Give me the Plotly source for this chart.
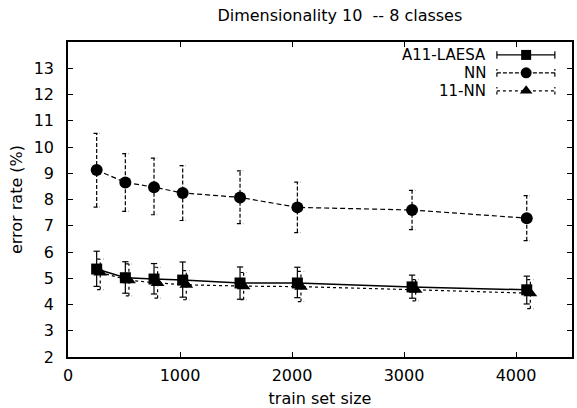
import plotly.graph_objects as go

# ---- data ----
train_size = [256, 512, 768, 1024, 1536, 2048, 3072, 4096]
knn_x = [288, 544, 800, 1056, 1568, 2080, 3104, 4128]

laesa_mean = [5.35, 5.02, 4.97, 4.93, 4.82, 4.82, 4.67, 4.56]
laesa_lo = [4.69, 4.43, 4.40, 4.28, 4.20, 4.26, 4.24, 4.02]
laesa_hi = [6.03, 5.63, 5.56, 5.62, 5.43, 5.42, 5.12, 5.08]

nn_mean = [9.12, 8.65, 8.47, 8.25, 8.08, 7.70, 7.60, 7.29]
nn_lo = [7.71, 7.55, 7.42, 7.20, 7.08, 6.74, 6.85, 6.43]
nn_hi = [10.52, 9.75, 9.58, 9.29, 9.09, 8.66, 8.35, 8.15]

knn_mean = [5.22, 4.92, 4.82, 4.75, 4.70, 4.68, 4.56, 4.43]
knn_lo = [4.57, 4.33, 4.24, 4.18, 4.18, 4.11, 4.14, 3.84]
knn_hi = [5.73, 5.55, 5.42, 5.29, 5.22, 5.26, 4.95, 4.95]

x_ticks = [0, 1000, 2000, 3000, 4000]
y_ticks = list(range(2, 14))

FONT = "DejaVu Sans, Liberation Sans, sans-serif"
FS = 16
CAP = 28  # half-width of error-bar caps in x units


def errbar_xy(xs, lo, hi, cap):
    ex, ey = [], []
    for x, a, b in zip(xs, lo, hi):
        ex += [x, x, None, x - cap, x + cap, None, x - cap, x + cap, None]
        ey += [a, b, None, a, a, None, b, b, None]
    return ex, ey


fig = go.Figure()

series = [
    ("A11-LAESA", train_size, laesa_mean, laesa_lo, laesa_hi, "solid", "square", 11, 1.5),
    ("NN", train_size, nn_mean, nn_lo, nn_hi, "5px,3px", "circle", 12, 1.2),
    ("11-NN", knn_x, knn_mean, knn_lo, knn_hi, "dot", "triangle-up", 12, 1.2),
]

for name, xs, m, lo, hi, dash, sym, size, lw in series:
    ex, ey = errbar_xy(xs, lo, hi, CAP)
    fig.add_trace(go.Scatter(x=ex, y=ey, mode="lines", showlegend=False, hoverinfo="skip",
                             line=dict(color="#000000", width=1.2,
                                       dash="4px,2px" if dash == "5px,3px" else dash)))
    fig.add_trace(go.Scatter(x=xs, y=m, mode="lines+markers", name=name, showlegend=False,
                             line=dict(color="#000000", width=lw, dash=dash),
                             marker=dict(symbol=sym, size=size, color="#000000")))

# ---- manual gnuplot-style key (samples to the right of the labels) ----
key_rows = [0.959, 0.902, 0.845]
kx0, kx1, kxm, klab = 0.851, 0.966, 0.909, 0.831
capk = 0.012
for (name, xs, m, lo, hi, dash, sym, size, lw), ky in zip(series, key_rows):
    fig.add_trace(go.Scatter(
        x=[kx0, kx1, None, kx0, kx0, None, kx1, kx1],
        y=[ky, ky, None, ky - capk, ky + capk, None, ky - capk, ky + capk],
        xaxis="x2", yaxis="y2", mode="lines", showlegend=False, hoverinfo="skip",
        line=dict(color="#000000", width=1.2, dash="4px,2px" if dash == "5px,3px" else dash)))
    fig.add_trace(go.Scatter(x=[kxm], y=[ky], xaxis="x2", yaxis="y2", mode="markers",
                             showlegend=False, hoverinfo="skip",
                             marker=dict(symbol=sym, size=size - 1, color="#000000")))
    fig.add_annotation(x=klab, y=ky, xref="x2", yref="y2", text=name, showarrow=False,
                       xanchor="right", yanchor="middle", height=14, borderpad=0,
                       font=dict(family=FONT, size=15, color="#000000"))

axis_common = dict(showline=True, linecolor="#000000", linewidth=1.5, mirror="allticks",
                   ticks="inside", ticklen=5, tickwidth=1, tickcolor="#000000",
                   showgrid=False, zeroline=False, automargin=False,
                   tickfont=dict(family=FONT, size=FS, color="#000000"))

fig.update_layout(
    width=577, height=408,
    margin=dict(l=68, r=5, t=42, b=51),
    paper_bgcolor="white", plot_bgcolor="white",
    title=dict(text="Dimensionality 10  -- 8 classes", x=0.589, xanchor="center",
               y=0.962, yanchor="middle",
               font=dict(family=FONT, size=FS, color="#000000")),
    xaxis=dict(range=[0, 4500], tickvals=x_ticks, ticklabelstandoff=3,
               title=dict(text="train set size", standoff=9,
                          font=dict(family=FONT, size=FS, color="#000000")),
               **axis_common),
    yaxis=dict(range=[2, 14], tickvals=y_ticks, ticklabelstandoff=9,
               title=dict(text="error rate (%)", standoff=7,
                          font=dict(family=FONT, size=FS, color="#000000")),
               **axis_common),
    xaxis2=dict(overlaying="x", range=[0, 1], visible=False, fixedrange=True),
    yaxis2=dict(overlaying="y", range=[0, 1], visible=False, fixedrange=True),
    showlegend=False,
)

fig.write_html("out.html", config={"displayModeBar": False},
               post_script="document.body.style.margin='0';document.body.style.overflow='hidden';")
